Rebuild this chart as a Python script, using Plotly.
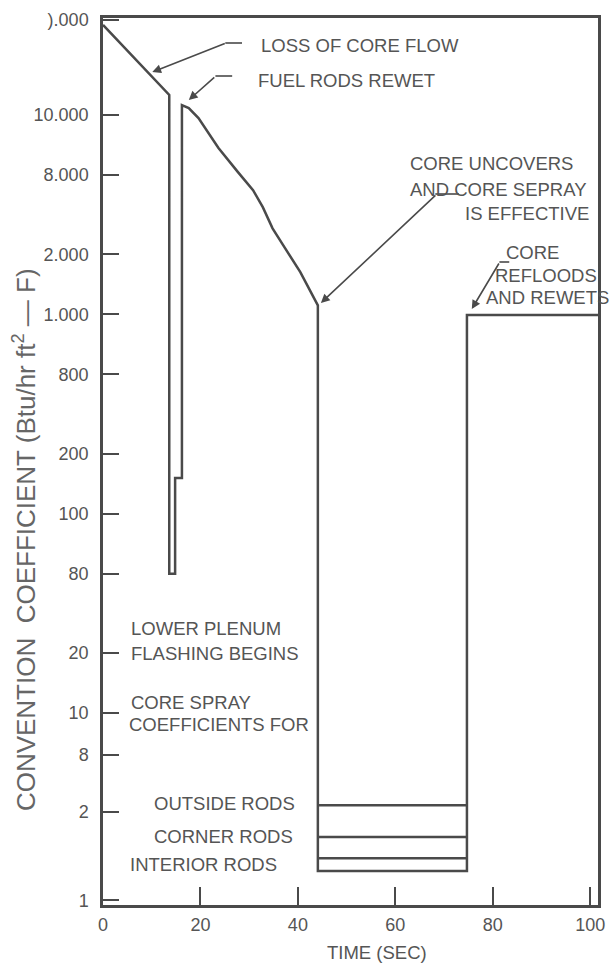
import plotly.graph_objects as go

# ---- data ----
TIME_S = [0, 13.6, 13.6, 14.8, 14.8, 16.2, 16.2, 17.6, 19.6, 23.7, 27.7, 30.8, 32.8, 34.8,
          37.2, 40.5, 44.1, 44.1, 74.7, 74.7, 101.6]
HTC = [28300, 12600, 50, 50, 151, 151, 11220, 10840, 9660, 6830, 5170, 4200, 3450, 2700,
       2180, 1630, 1110, 1.61, 1.61, 993, 993]

ROD_NAMES = ["OUTSIDE RODS", "CORNER RODS", "INTERIOR RODS"]
ROD_HTC = [3.45, 2.39, 1.87]
ROD_TIME = [44.1, 74.7]

X_TICK_VALS = [0, 20, 40, 60, 80, 100]
X_TICK_TEXT = ["0", "20", "40", "60", "80", "100"]
Y_TICK_VALS = [1.15, 3.2, 6.15, 10, 20, 50, 100, 200, 500, 1000, 2000, 5000, 10000, 30000]
Y_TICK_TEXT = ["1", "2", "8", "10", "20", "80", "100", "200", "800", "1.000", "2.000",
               "8.000", "10.000", ").000"]

LINE = "#4a4a4a"
TXT = "#555555"
FONT = "Liberation Sans, Arial, sans-serif"

fig = go.Figure()
fig.add_trace(go.Scatter(x=TIME_S, y=HTC, mode="lines",
                         line=dict(color=LINE, width=2.5), showlegend=False, hoverinfo="skip"))
for name, v in zip(ROD_NAMES, ROD_HTC):
    fig.add_trace(go.Scatter(x=ROD_TIME, y=[v, v], mode="lines", name=name,
                             line=dict(color=LINE, width=2.5), showlegend=False))

# layout geometry (pixels of the 615x966 page)
L, R, T, B = 103, 605, 18, 905
W, H = R - L, B - T


def px(x):
    return (x - L) / W


def py(y):
    return (B - y) / H


ann = []


def text(s, x, y, anchor="left", size=18.5, angle=0, color=TXT):
    ann.append(dict(text=s, xref="paper", yref="paper", x=px(x), y=py(y), xanchor=anchor,
                    yanchor="middle", showarrow=False, textangle=angle,
                    font=dict(family=FONT, size=size, color=color)))


def arrow(tail, tip):
    ann.append(dict(text="", xref="paper", yref="paper", x=px(tip[0]), y=py(tip[1]),
                    ax=tail[0] - tip[0], ay=tail[1] - tip[1], showarrow=True,
                    arrowhead=2, arrowsize=1.1, arrowwidth=1.6, arrowcolor=LINE))


shapes = []


def seg(a, b):
    shapes.append(dict(type="line", xref="paper", yref="paper", x0=px(a[0]), y0=py(a[1]),
                       x1=px(b[0]), y1=py(b[1]), line=dict(color=LINE, width=1.6)))


text("LOSS OF CORE FLOW", 261, 46)
seg((227, 43), (244, 43))
arrow((227, 43), (153, 72))

text("FUEL RODS REWET", 258, 80)
seg((217, 76), (234, 76))
arrow((217, 76), (190, 100))

text("CORE UNCOVERS", 412, 163)
text("AND CORE SEPRAY", 412, 189)
text("IS EFFECTIVE", 598, 213, anchor="right")
seg((440, 194), (464, 194))
arrow((440, 194), (324, 303))

text("CORE", 539, 252, anchor="center")
text("REFLOODS", 499, 276)
text("AND REWETS", 489, 297)
seg((505, 262), (515, 262))
arrow((505, 262), (477, 309))

text("LOWER PLENUM", 129, 629)
text("FLASHING BEGINS", 129, 653)
text("CORE SPRAY", 129, 702)
text("COEFFICIENTS FOR", 127, 724)
text("OUTSIDE RODS", 153, 803)
text("CORNER RODS", 153, 836)
text("INTERIOR RODS", 128, 864)

text("TIME (SEC)", 381, 952, anchor="center")
text("CONVENTION  COEFFICIENT (Btu/hr ft<sup>2</sup> \u2014 F)", 23, 540, anchor="center",
     size=26, angle=-90, color="#666666")

fig.update_layout(
    width=615, height=966,
    margin=dict(l=L, r=615 - R, t=T, b=966 - B, pad=0),
    paper_bgcolor="white", plot_bgcolor="white",
    font=dict(family=FONT, size=18, color=TXT),
    annotations=ann, shapes=shapes,
)
fig.update_xaxes(range=[0, 101.6], tickvals=X_TICK_VALS, ticktext=X_TICK_TEXT,
                 ticks="inside", ticklen=18, tickwidth=2, tickcolor=LINE,
                 showline=True, linecolor=LINE, linewidth=2.5, mirror=True,
                 showgrid=False, zeroline=False, ticklabelstandoff=2,
                 tickfont=dict(family=FONT, size=18, color=TXT))
fig.update_yaxes(type="log", range=[0.0368, 4.4867], tickvals=Y_TICK_VALS, ticktext=Y_TICK_TEXT,
                 ticks="inside", ticklen=16, tickwidth=2, tickcolor=LINE,
                 showline=True, linecolor=LINE, linewidth=2.5, mirror=True,
                 showgrid=False, zeroline=False, ticklabelstandoff=8,
                 tickfont=dict(family=FONT, size=18, color=TXT))

fig.write_html("out.html", config={"displayModeBar": False},
               post_script="document.body.style.margin='0';")
